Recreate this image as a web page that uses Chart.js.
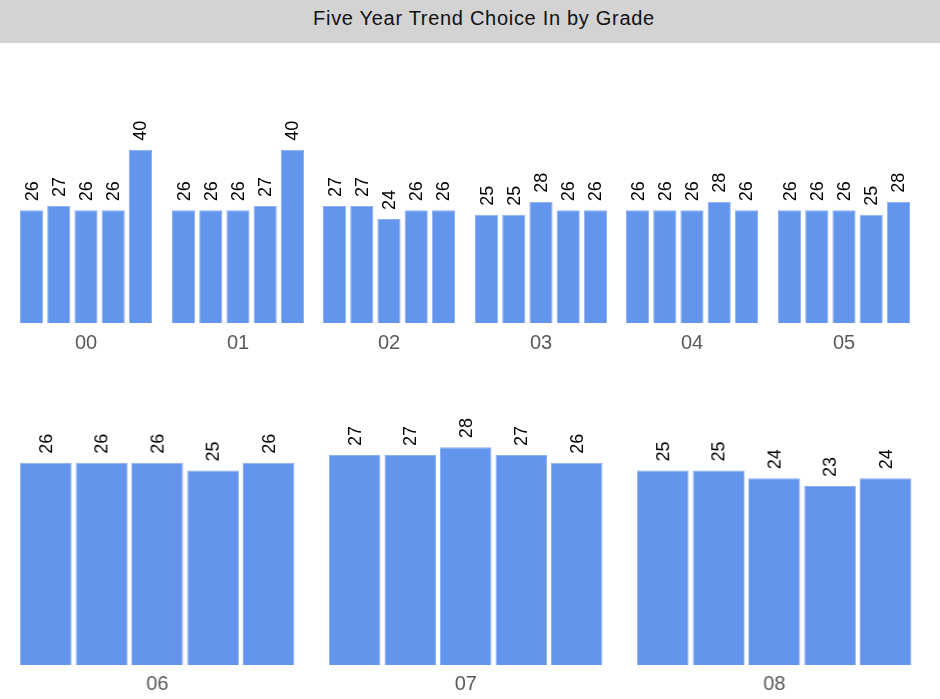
<!DOCTYPE html>
<html lang="en">
<head>
  <meta charset="UTF-8">
  <title>Five Year Trend Choice In by Grade</title>
  <script src="https://cdn.jsdelivr.net/npm/chart.js"></script>
  <style>
    body { margin: 0; background: #fff; font-family: "Liberation Sans", Arial, sans-serif; width: 940px; height: 699px; position: relative; overflow: hidden; }
    .title { position: absolute; left: 0; top: 0; width: 912px; padding-left: 28px; height: 43px; background: #d3d3d3; text-align: center; font-size: 20px; letter-spacing: 0.7px; line-height: 37px; color: #111; }
    .panel { position: absolute; }
  </style>
</head>
<body>
  <div class="title">Five Year Trend Choice In by Grade</div>
  <div id="panels"></div>

  <script>
    // five years per grade
    const years = ['1', '2', '3', '4', '5'];
    const grades = ['00', '01', '02', '03', '04', '05', '06', '07', '08'];

    const g00 = [26, 27, 26, 26, 40];
    const g01 = [26, 26, 26, 27, 40];
    const g02 = [27, 27, 24, 26, 26];
    const g03 = [25, 25, 28, 26, 26];
    const g04 = [26, 26, 26, 28, 26];
    const g05 = [26, 26, 26, 25, 28];
    const g06 = [26, 26, 26, 25, 26];
    const g07 = [27, 27, 28, 27, 26];
    const g08 = [25, 25, 24, 23, 24];

    const gradeValues = [g00, g01, g02, g03, g04, g05, g06, g07, g08];

    Chart.defaults.font.family = '"Liberation Sans", Arial, sans-serif';

    const barLabels = {
      id: 'barLabels',
      afterDatasetsDraw(chart, args, opts) {
        const ctx = chart.ctx;
        const meta = chart.getDatasetMeta(0);
        const vals = chart.data.datasets[0].data;
        ctx.save();
        ctx.fillStyle = '#000';
        ctx.font = '18px "Liberation Sans", Arial, sans-serif';
        ctx.textAlign = 'left';
        ctx.textBaseline = 'middle';
        meta.data.forEach((bar, i) => {
          ctx.save();
          ctx.translate(bar.x + 1, bar.y - 9);
          ctx.rotate(-Math.PI / 2);
          ctx.fillText(vals[i], 0, 0);
          ctx.restore();
        });
        // grade name under the bars
        const a = chart.chartArea;
        ctx.fillStyle = '#5a5a5a';
        ctx.font = '20px "Liberation Sans", Arial, sans-serif';
        ctx.textAlign = 'center';
        ctx.fillText(opts.grade, (a.left + a.right) / 2, a.bottom + opts.labelGap);
        ctx.restore();
      }
    };

    function makePanel(idx, left, top, width, height, padTop, padBottom, yMax, barPct, labelGap) {
      const div = document.createElement('div');
      div.className = 'panel';
      div.style.left = left + 'px';
      div.style.top = top + 'px';
      div.style.width = width + 'px';
      div.style.height = height + 'px';
      const cv = document.createElement('canvas');
      div.appendChild(cv);
      document.getElementById('panels').appendChild(div);

      new Chart(cv, {
        type: 'bar',
        data: {
          labels: years,
          datasets: [{
            data: gradeValues[idx],
            backgroundColor: '#6495ed',
            borderColor: '#8db0f1',
            borderWidth: 1,
            barPercentage: barPct,
            categoryPercentage: 1
          }]
        },
        options: {
          responsive: true,
          maintainAspectRatio: false,
          animation: false,
          layout: { padding: { top: padTop, bottom: padBottom, left: 0, right: 0 } },
          scales: {
            x: { display: false },
            y: { display: false, min: 0, max: yMax }
          },
          plugins: {
            legend: { display: false },
            tooltip: { enabled: false },
            barLabels: { grade: grades[idx], labelGap: labelGap }
          }
        },
        plugins: [barLabels]
      });
    }

    // top row: 6 grades
    for (let i = 0; i < 6; i++) {
      makePanel(i, 18 + i * 151.5, 88, 136, 270, 40, 35, 45, 0.853, 20);
    }
    // bottom row: 3 grades
    for (let i = 0; i < 3; i++) {
      makePanel(6 + i, 18 + i * 308.5, 376, 277.5, 323, 40, 34, 32, 0.928, 19);
    }
  </script>
</body>
</html>
